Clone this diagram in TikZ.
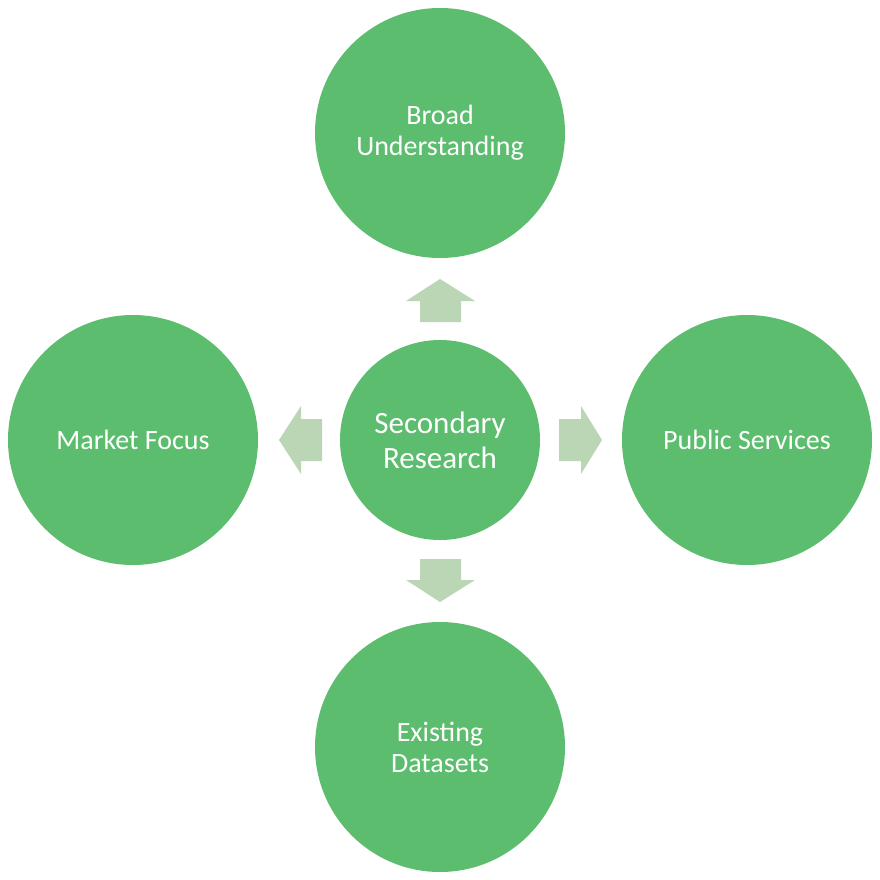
\documentclass[tikz,border=0pt]{standalone}
\usepackage{fontspec}
\setmainfont{Carlito}
\definecolor{cgreen}{HTML}{5CBD6F}
\definecolor{agreen}{HTML}{BBD6B4}
\begin{document}
\begin{tikzpicture}[x=1pt,y=-1pt,
  bigc/.style={circle,fill=cgreen,minimum size=250pt,inner sep=0pt,text=white,align=center,font=\fontsize{28}{31}\selectfont},
  midc/.style={circle,fill=cgreen,minimum size=200pt,inner sep=0pt,text=white,align=center,font=\fontsize{31}{35}\selectfont},
  blk/.style={fill=agreen,draw=none}]
\useasboundingbox (0,0) rectangle (880,880);
\node[midc] (c) at (440,440) {Secondary\\Research};
\node[bigc] (t) at (440,133) {Broad\\Understanding};
\node[bigc] (l) at (133,440) {Market Focus};
\node[bigc] (r) at (747,440) {Public Services};
\node[bigc] (b) at (440,747) {Existing\\Datasets};
% up arrow
\fill[blk] (420,322) -- (420,301) -- (406,301) -- (440,279) -- (475,301) -- (461,301) -- (461,322) -- cycle;
% down arrow
\fill[blk] (420,559) -- (420,580) -- (406,580) -- (440,602) -- (475,580) -- (461,580) -- (461,559) -- cycle;
% right arrow
\fill[blk] (559,419) -- (581,419) -- (581,406) -- (602,440) -- (581,474) -- (581,461) -- (559,461) -- cycle;
% left arrow
\fill[blk] (322,419) -- (301,419) -- (301,406) -- (279,440) -- (301,474) -- (301,461) -- (322,461) -- cycle;
\end{tikzpicture}
\end{document}
